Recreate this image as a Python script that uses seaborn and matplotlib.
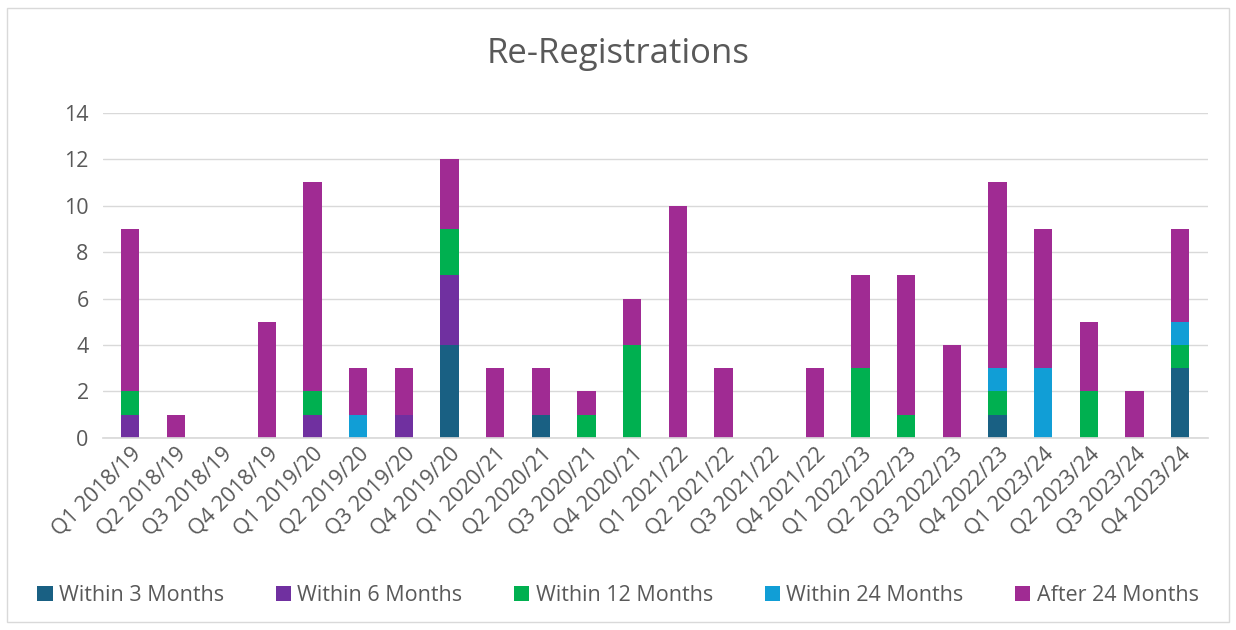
import numpy as np
import pandas as pd
import matplotlib
matplotlib.use("Agg")
import matplotlib.pyplot as plt
import seaborn as sns
from matplotlib.patches import Rectangle

# Données
quarters = [
    "Q1 2018/19", "Q2 2018/19", "Q3 2018/19", "Q4 2018/19",
    "Q1 2019/20", "Q2 2019/20", "Q3 2019/20", "Q4 2019/20",
    "Q1 2020/21", "Q2 2020/21", "Q3 2020/21", "Q4 2020/21",
    "Q1 2021/22", "Q2 2021/22", "Q3 2021/22", "Q4 2021/22",
    "Q1 2022/23", "Q2 2022/23", "Q3 2022/23", "Q4 2022/23",
    "Q1 2023/24", "Q2 2023/24", "Q3 2023/24", "Q4 2023/24",
]
within_3 = [0, 0, 0, 0, 0, 0, 0, 4, 0, 1, 0, 0, 0, 0, 0, 0, 0, 0, 0, 1, 0, 0, 0, 3]
within_6 = [1, 0, 0, 0, 1, 0, 1, 3, 0, 0, 0, 0, 0, 0, 0, 0, 0, 0, 0, 0, 0, 0, 0, 0]
within_12 = [1, 0, 0, 0, 1, 0, 0, 2, 0, 0, 1, 4, 0, 0, 0, 0, 3, 1, 0, 1, 0, 2, 0, 1]
within_24 = [0, 0, 0, 0, 0, 1, 0, 0, 0, 0, 0, 0, 0, 0, 0, 0, 0, 0, 0, 1, 3, 0, 0, 1]
after_24 = [7, 1, 0, 5, 9, 2, 2, 3, 3, 2, 1, 2, 10, 3, 0, 3, 4, 6, 4, 8, 6, 3, 2, 4]

series_names = ["Within 3 Months", "Within 6 Months", "Within 12 Months",
                "Within 24 Months", "After 24 Months"]
series_values = [within_3, within_6, within_12, within_24, after_24]
colors = ["#196083", "#7030A0", "#00B050", "#119ED6", "#A02B93"]

text_color = "#595959"

sns.set_theme(style="white")
plt.rcParams['font.family'] = ['Open Sans', 'DejaVu Sans']

fig = plt.figure(figsize=(12.36, 6.3), dpi=100)
ax = fig.add_axes([0.083, 0.305, 0.894, 0.516])

# Cadre extérieur du graphique
fig.patches.append(Rectangle((0.006, 0.013), 0.988, 0.974, transform=fig.transFigure,
                             fill=False, edgecolor="#D9D9D9", linewidth=1))

bottom = np.zeros(len(quarters))
for name, vals, col in zip(series_names, series_values, colors):
    df = pd.DataFrame({"Quarter": quarters, "Count": vals})
    sns.barplot(data=df, x="Quarter", y="Count", color=col, bottom=bottom,
                width=0.4, label=name, ax=ax, saturation=1, linewidth=0)
    bottom = bottom + np.array(vals)

ax.set_ylim(0, 14)
ax.set_yticks(range(0, 15, 2))
ax.set_xlim(-0.6, len(quarters) - 0.4)
ax.yaxis.grid(True, color="#D9D9D9", linewidth=1)
ax.set_axisbelow(True)
for s in ["top", "right", "left"]:
    ax.spines[s].set_visible(False)
ax.spines["bottom"].set_color("#D9D9D9")
ax.tick_params(axis="both", length=0, colors=text_color, labelsize=15.5)
ax.tick_params(axis="y", pad=10)
ax.tick_params(axis="x", pad=4)
plt.setp(ax.get_xticklabels(), rotation=45, ha="right", rotation_mode="anchor")
ax.set_xlabel("")
ax.set_ylabel("")

fig.text(0.5, 0.915, "Re-Registrations", ha="center", va="center",
         fontsize=25, color=text_color)

ax.legend(loc="center", bbox_to_anchor=(0.5, 0.055), bbox_transform=fig.transFigure,
          ncol=5, frameon=False, fontsize=15.5, labelcolor=text_color,
          handlelength=0.7, handleheight=0.7, handletextpad=0.3, columnspacing=2.4)

plt.savefig("out.png", dpi=100)
plt.close()
